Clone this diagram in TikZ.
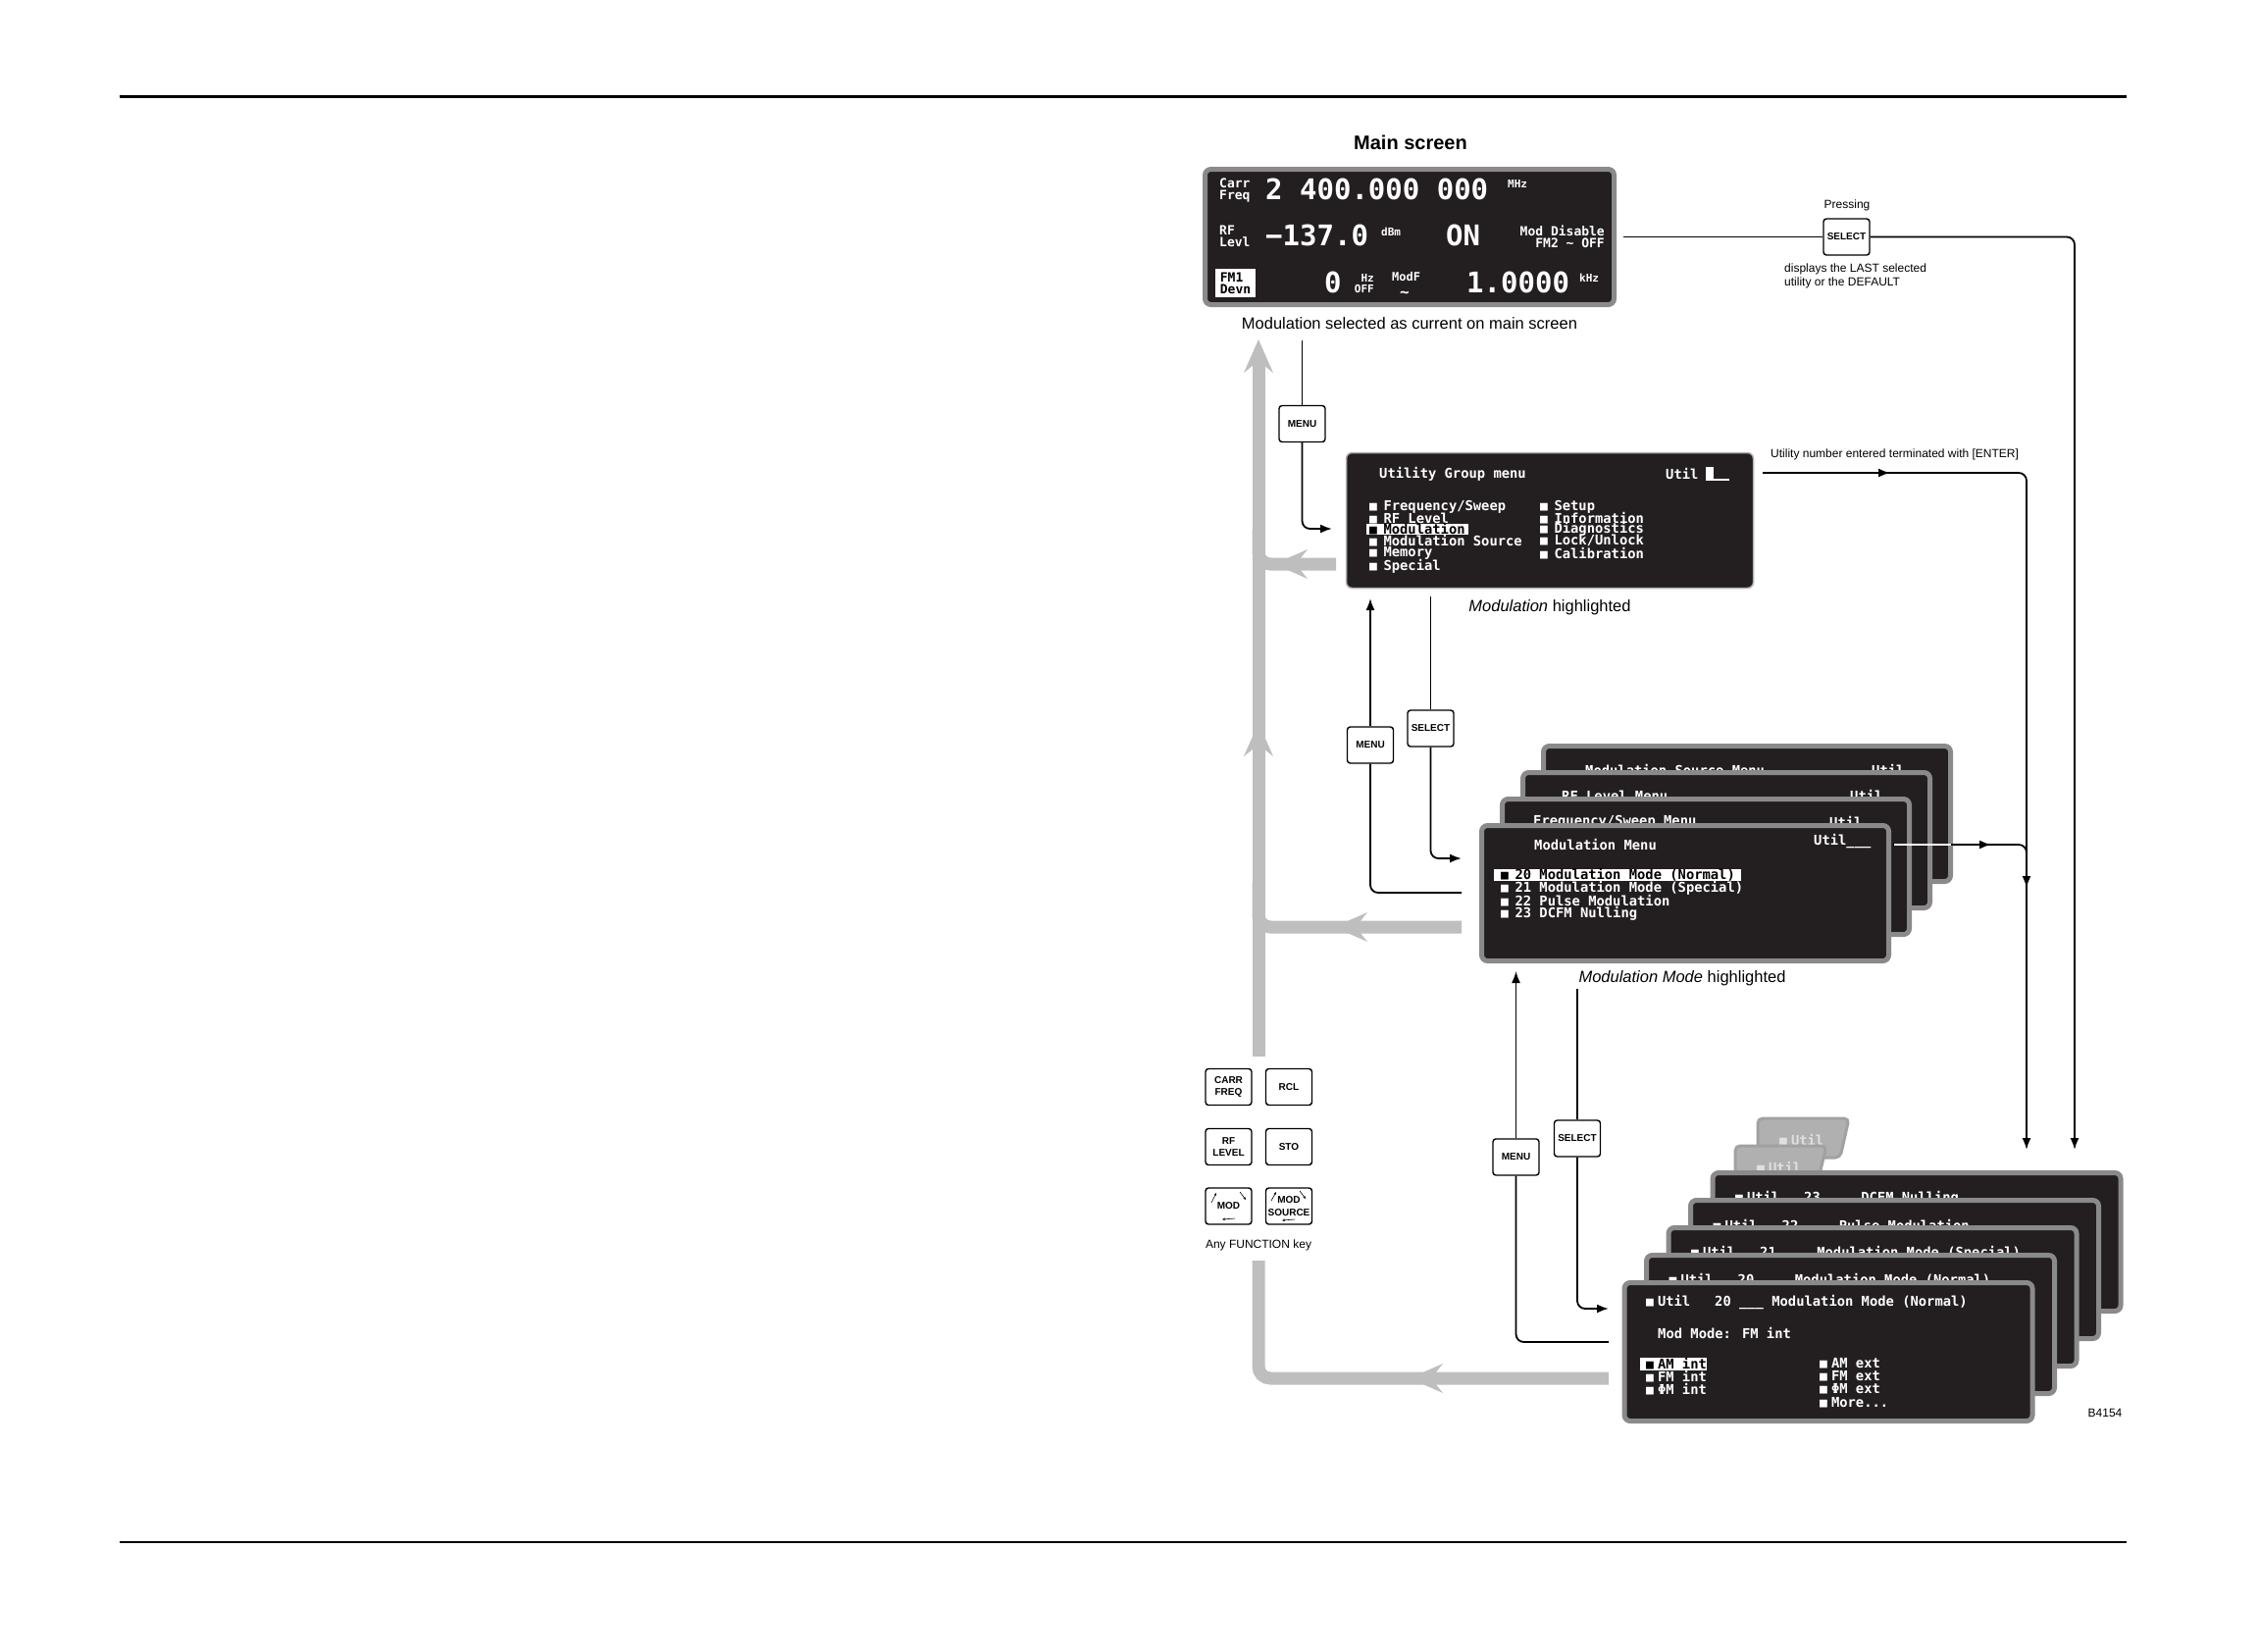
\documentclass[tikz,border=0pt]{standalone}
\usepackage{fontspec}
\setmainfont{Liberation Sans}
\newfontfamily\scrfont{DejaVu Sans Mono}
\usetikzlibrary{arrows.meta,decorations.markings}
\definecolor{scrblack}{HTML}{231F20}
\definecolor{scrgrey}{HTML}{8A8A8A}
\definecolor{greybar}{HTML}{BEBEBE}
\definecolor{tabgrey}{HTML}{B0B0B0}
\newcommand{\blt}{{\fontsize{13}{12}\selectfont ■}}
\tikzset{
  scr/.style={fill=scrblack,draw=scrgrey,line width=5pt,rounded corners=6pt,inner sep=0pt,minimum width=415pt,minimum height=138pt},
  scrtxt/.style={text=white,inner sep=0pt,anchor=west,font=\scrfont\bfseries\fontsize{13.8}{12}\selectfont},
  smalltxt/.style={scrtxt,font=\scrfont\bfseries\fontsize{13}{12}\selectfont},
  bigtxt/.style={scrtxt,font=\scrfont\bfseries\fontsize{29}{30}\selectfont},
  unittxt/.style={scrtxt,font=\scrfont\bfseries\fontsize{11}{11}\selectfont},
  fkey/.style={draw,line width=1.4pt,rounded corners=3pt,fill=white,minimum width=47pt,minimum height=37pt,inner sep=0pt,align=center,font=\bfseries\fontsize{10}{12.5}\selectfont},
  flow/.style={line width=1.8pt,rounded corners=8pt},
  tip/.style={-{Latex[length=12pt,width=9pt]}},
  midblack/.style={postaction={decorate},decoration={markings,mark=at position #1 with {\arrow{Latex[length=12pt,width=9pt]}}}},
  greyway/.style={draw=greybar,line width=13pt,rounded corners=12pt},
  greytip/.style={-{Stealth[length=34pt,width=30pt,inset=12pt,line width=0pt]}},
  midgrey/.style={postaction={decorate},decoration={markings,mark=at position #1 with {\arrow{Stealth[length=34pt,width=30pt,inset=12pt,line width=0pt]}}}},
  note/.style={inner sep=0pt,font=\fontsize{12}{14}\selectfont},
  caption/.style={inner sep=0pt,font=\fontsize{16.5}{19}\selectfont},
}
\begin{document}
\begin{tikzpicture}[x=1pt,y=-1pt]
\useasboundingbox (0,0) rectangle (2303,1684);
% page rules
\draw[line width=3pt] (122,98) -- (2168,98);
\draw[line width=1.2pt] (122,1572) -- (2168,1572);

% grey return paths
\draw[greyway,midgrey=203pt] (1640,1405) -- (1283,1405) -- (1283,1285);
\draw[greyway,greytip,midgrey=340pt] (1283,1077) -- (1283,346);
\draw[greyway,midgrey=130pt] (1490,945) -- (1283,945) -- (1283,900);
\draw[greyway,midgrey=63pt] (1362,575) -- (1283,575) -- (1283,540);

% main screen
\node[font=\bfseries\fontsize{20}{24}\selectfont,inner sep=0pt] (title) at (1438,145) {Main screen};
\node[scr,minimum width=417pt] (main) at (1437,241.5) {};
\node[smalltxt,align=left] at (1243,194) {Carr\\Freq};
\node[bigtxt] at (1290,193) {2 400.000 000};
\node[unittxt] at (1537,187) {MHz};
\node[smalltxt,align=left] at (1243,241) {RF\\Levl};
\node[bigtxt] at (1290,240) {−137.0};
\node[unittxt] at (1408,236) {dBm};
\node[bigtxt] at (1474,240) {ON};
\node[smalltxt,anchor=east,align=right] at (1636,241) {Mod Disable\\FM2 ∼ OFF};
\node[fill=white,text=black,inner sep=0pt,minimum width=41pt,minimum height=29pt,align=left,font=\scrfont\bfseries\fontsize{13}{12}\selectfont] at (1259.5,288.5) {FM1\\Devn};
\node[bigtxt] at (1350,288) {0};
\node[unittxt,anchor=east,align=right] at (1401,289) {Hz\\OFF};
\node[scrtxt,font=\scrfont\bfseries\fontsize{12}{12}\selectfont] at (1419,282) {ModF};
\node[scrtxt,font=\scrfont\bfseries\fontsize{16}{16}\selectfont] at (1427,300) {∼};
\node[bigtxt] at (1495,288) {1.0000};
\node[unittxt] at (1610,283) {kHz};
\node[caption] (maincap) at (1437,330) {Modulation selected as current on main screen};

% SELECT from main screen
\node[note] (press) at (1883,209) {Pressing};
\node[fkey] (selmain) at (1882.5,241.5) {SELECT};
\node[note,anchor=north west,align=left] (lastnote) at (1819,269) {displays the LAST selected\\utility or the DEFAULT};
\draw[flow] ([xshift=7pt]main.east) -- (selmain.west);
\draw[flow,tip] (selmain.east) -- (2115,241.5) -- (2115,1172);

% utility group menu
\node[scr,line width=1.5pt,draw=gray!60,minimum width=415pt,minimum height=138pt] (ugm) at (1580,530.5) {};
\node[scrtxt] at (1406,483) {Utility Group menu};
\node[scrtxt] at (1698,483) {Util};
\fill[white] (1739,476) rectangle (1747,488);
\draw[white,line width=1.5pt] (1739,489) -- (1763,489);
\node[scrtxt] at (1396,517) {\blt\hspace{6.5pt}Frequency/Sweep};
\node[scrtxt] at (1396,528) {\blt\hspace{6.5pt}RF Level};
\fill[white] (1393,534) rectangle (1497,544.5);
\node[scrtxt,text=black] at (1396,539) {\blt\hspace{6.5pt}Modulation};
\node[scrtxt] at (1396,551) {\blt\hspace{6.5pt}Modulation Source};
\node[scrtxt] at (1396,564) {\blt\hspace{6.5pt}Memory};
\node[scrtxt] at (1396,577) {\blt\hspace{6.5pt}Special};
\node[scrtxt] at (1570,517) {\blt\hspace{6.5pt}Setup};
\node[scrtxt] at (1570,528) {\blt\hspace{6.5pt}Information};
\node[scrtxt] at (1570,539) {\blt\hspace{6.5pt}Diagnostics};
\node[scrtxt] at (1570,551) {\blt\hspace{6.5pt}Lock/Unlock};
\node[scrtxt] at (1570,564) {\blt\hspace{6.5pt}Calibration};
\node[caption] (ugmcap) at (1580,619) {\textit{Modulation} highlighted};

% MENU from main screen
\node[fkey] (menu1) at (1327.5,432) {MENU};
\coordinate (m1top) at (1327.5,347);
\draw[flow] (m1top) -- (menu1.north);
\draw[flow,tip] (menu1.south) -- (1327.5,539) -- (1358,539);

% utility number entered
\node[note,anchor=west] (enternote) at (1805,463) {Utility number entered terminated with [ENTER]};
\draw[flow,tip,midblack=130pt] (1797,482) -- (2066,482) -- (2066,1172);

% modulation menus
\node[scr] (mm3) at (1781,829.5) {};
\node[scrtxt] at (1616,785) {Modulation Source Menu};
\node[scrtxt] at (1908,785) {Util};
\node[scr] (mm2) at (1760,856.5) {};
\node[scrtxt] at (1592,811) {RF Level Menu};
\node[scrtxt] at (1886,811) {Util};
\node[scr] (mm1) at (1739,883.5) {};
\node[scrtxt] at (1563,838) {Frequency/Sweep Menu};
\node[scrtxt] at (1865,838) {Util};
\node[scr] (modmenu) at (1718,910.5) {};
\node[scrtxt] at (1564,861) {Modulation Menu};
\node[scrtxt] at (1849,858) {Util\_\_\_};
\fill[white] (1523,885.5) rectangle (1775,898);
\node[scrtxt,text=black] at (1530,892) {\blt\hspace{6.5pt}20 Modulation Mode (Normal)};
\node[scrtxt] at (1530,905) {\blt\hspace{6.5pt}21 Modulation Mode (Special)};
\node[scrtxt] at (1530,918) {\blt\hspace{6.5pt}22 Pulse Modulation};
\node[scrtxt] at (1530,931) {\blt\hspace{6.5pt}23 DCFM Nulling};
\node[caption] (mmcap) at (1715,997) {\textit{Modulation Mode} highlighted};
\draw[flow,tip,midblack=100pt] (1930,861) -- (2066,861) -- (2066,905);
\draw[white,line width=1.8pt] (1931,861) -- (1989,861);

% MENU / SELECT between utility group and modulation menu
\node[fkey] (menu2) at (1397,759.5) {MENU};
\node[fkey] (sel2) at (1458.5,742.5) {SELECT};
\draw[flow] (1490,910) -- (1397,910) -- (menu2.south);
\draw[flow,tip] (menu2.north) -- (1397,610);
\draw[flow] (1458.5,608) -- (sel2.north);
\draw[flow,tip] (sel2.south) -- (1458.5,875) -- (1490,875);

% function keys
\node[fkey] (carr) at (1252.5,1108) {CARR\\FREQ};
\node[fkey] (rcl) at (1314,1108) {RCL};
\node[fkey] (rflev) at (1252.5,1169) {RF\\LEVEL};
\node[fkey] (sto) at (1314,1169) {STO};
\node[fkey] (mod) at (1252.5,1229.5) {MOD};
\node[fkey] (modsrc) at (1314,1229.5) {MOD\\SOURCE};
\draw[line width=0.6pt,-{Stealth[length=3pt,width=2.5pt]}] (1235,1226) -- (1240,1216);
\draw[line width=0.6pt,-{Stealth[length=3pt,width=2.5pt]}] (1264,1215) -- (1270,1223);
\draw[line width=0.6pt,-{Stealth[length=3pt,width=2.5pt]}] (1259,1242) -- (1246,1243);
\draw[line width=0.6pt,-{Stealth[length=3pt,width=2.5pt]}] (1296,1224) -- (1301,1215);
\draw[line width=0.6pt,-{Stealth[length=3pt,width=2.5pt]}] (1325,1214) -- (1331,1222);
\draw[line width=0.6pt,-{Stealth[length=3pt,width=2.5pt]}] (1320,1243) -- (1307,1244);
\node[note] (anykey) at (1283,1269) {Any FUNCTION key};

% utility screens
\draw[fill=tabgrey,draw=scrgrey!80,line width=3pt,rounded corners=5pt] (1792,1180) -- (1792,1140) -- (1885,1140) -- (1876,1180) -- cycle;
\node[scrtxt,text=white!88!black] at (1814,1162) {\blt\hspace{4pt}Util};
\draw[fill=tabgrey,draw=scrgrey!80,line width=3pt,rounded corners=5pt] (1769,1205) -- (1769,1168) -- (1862,1168) -- (1853,1205) -- cycle;
\node[scrtxt,text=white!88!black] at (1791,1190) {\blt\hspace{4pt}Util};
\foreach \n/\cx/\cy/\t in {23/1954/1266/DCFM Nulling,22/1931.5/1294/Pulse Modulation,21/1909/1322/Modulation Mode (Special),20/1886.5/1350/Modulation Mode (Normal)} {
  \node[scr,minimum width=416pt,minimum height=141pt] (u\n) at (\cx,\cy) {};
  \node[scrtxt] at (\cx-185,\cy-45) {\blt\hspace{4pt}Util~~~\n~~~~~\t};
}
\node[scr,minimum width=416pt,minimum height=141pt] (util20) at (1864,1378) {};
\node[scrtxt] at (1678,1328) {\blt\hspace{4pt}Util~~~20~\_\_\_~Modulation Mode (Normal)};
\node[scrtxt] at (1690,1359) {Mod Mode: FM int};
\fill[white] (1672,1384) rectangle (1740,1396.5);
\node[scrtxt,text=black] at (1678,1390) {\blt\hspace{4pt}AM int};
\node[scrtxt] at (1678,1403) {\blt\hspace{4pt}FM int};
\node[scrtxt] at (1678,1416) {\blt\hspace{4pt}ΦM int};
\node[scrtxt] at (1855,1390) {\blt\hspace{4pt}AM ext};
\node[scrtxt] at (1855,1403) {\blt\hspace{4pt}FM ext};
\node[scrtxt] at (1855,1416) {\blt\hspace{4pt}ΦM ext};
\node[scrtxt] at (1855,1430) {\blt\hspace{4pt}More...};
\node[note] (figno) at (2146,1440) {B4154};

% MENU / SELECT between modulation menu and utility screen
\node[fkey] (menu3) at (1545.5,1179.5) {MENU};
\node[fkey] (sel3) at (1608,1160.5) {SELECT};
\draw[flow] (1640,1368) -- (1545.5,1368) -- (menu3.south);
\draw[flow,tip] (menu3.north) -- (1545.5,990);
\draw[flow] (1608,1008) -- (sel3.north);
\draw[flow,tip] (sel3.south) -- (1608,1334) -- (1640,1334);
\end{tikzpicture}
\end{document}
